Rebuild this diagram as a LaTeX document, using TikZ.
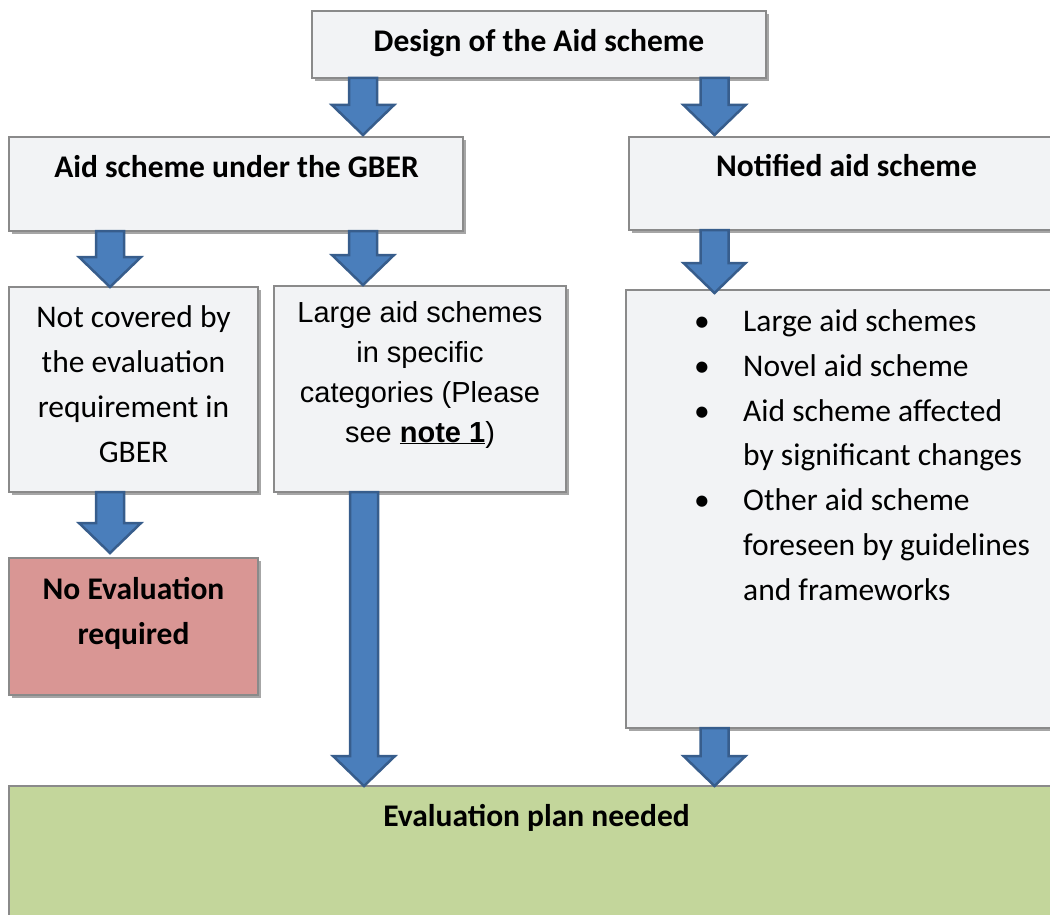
\documentclass[tikz,border=0pt]{standalone}
\usepackage{fontspec}
\setmainfont{Carlito}
\newfontfamily\arialfont{Liberation Sans}
\usetikzlibrary{calc,shadows}
\definecolor{boxfill}{HTML}{F2F3F5}
\definecolor{boxline}{HTML}{8A8A8A}
\definecolor{arrfill}{HTML}{4A7EBB}
\definecolor{arrline}{HTML}{375D8C}
\definecolor{pinkfill}{HTML}{D99694}
\definecolor{greenfill}{HTML}{C3D69B}
\tikzset{
  box/.style={draw=boxline, line width=1.8pt, fill=boxfill, anchor=north west,
    inner sep=0pt, outer sep=0pt,
    general shadow={fill=black!35, shadow xshift=3pt, shadow yshift=-3pt}},
  blockarrow/.style={draw=arrline, fill=arrfill, line width=2.5pt, line join=miter},
  lbl/.style={anchor=base, inner sep=0pt, font=\fontsize{31.5}{44.7}\selectfont},
  albl/.style={anchor=base, inner sep=0pt, align=center, font=\arialfont\fontsize{29}{39.7}\selectfont},
}
\newcommand\barrow[4]{%
  \draw[blockarrow] let \p1=(#2.south), \p2=(#3.north) in
    ({#1pt-14pt},\y1) -- ({#1pt+14pt},\y1) -- ({#1pt+14pt},{\y2+#4pt+30pt})
    -- ({#1pt+31pt},{\y2+#4pt+30pt}) -- ({#1pt},{\y2+#4pt})
    -- ({#1pt-31pt},{\y2+#4pt+30pt}) -- ({#1pt-14pt},{\y2+#4pt+30pt}) -- cycle;}
\newcommand\bitem{\makebox[49pt][l]{•}}
\begin{document}
\begin{tikzpicture}[x=1pt,y=-1pt]
\useasboundingbox (0,0) rectangle (1050,915);
\clip (0,0) rectangle (1050,915);
% boxes
\node[box, minimum width=454pt, minimum height=67pt] (design) at (312,11) {};
\node[box, minimum width=454pt, minimum height=94pt] (gber) at (9,137) {};
\node[box, minimum width=440pt, minimum height=93pt] (notified) at (629,137) {};
\node[box, minimum width=249pt, minimum height=205pt] (notcov) at (9,287) {};
\node[box, minimum width=292pt, minimum height=206pt] (large) at (274,286) {};
\node[box, fill=pinkfill, minimum width=249pt, minimum height=137pt] (noeval) at (9,558) {};
\node[box, minimum width=440pt, minimum height=438pt] (right) at (626,290) {};
\node[box, fill=greenfill, minimum width=1060pt, minimum height=150pt] (eval) at (9,786) {};
% texts (multi-line nodes: base anchor = last line's baseline)
\node[lbl] at (539,52) {\bfseries Design of the Aid scheme};
\node[lbl] at (236.5,178) {\bfseries Aid scheme under the GBER};
\node[lbl] at (846.5,177) {\bfseries Notified aid scheme};
\node[lbl, align=center] at (133.5,462) {Not covered by\\the evaluation\\requirement in\\GBER};
\node[albl] at (420,442) {Large aid schemes\\in specific\\categories (Please\\see \underline{\textbf{note 1}})};
\node[lbl, align=center] at (133.5,644) {\bfseries No Evaluation\\\bfseries required};
\node[lbl, anchor=base west, align=left] at (694,600) {\bitem Large aid schemes\\\bitem Novel aid scheme\\\bitem Aid scheme affected\\\hspace*{49pt}by significant changes\\\bitem Other aid scheme\\\hspace*{49pt}foreseen by guidelines\\\hspace*{49pt}and frameworks};
\node[lbl] at (536.5,826) {\bfseries Evaluation plan needed};
% arrows
\barrow{363}{design}{gber}{2}
\barrow{714.5}{design}{notified}{2}
\barrow{110}{gber}{notcov}{0}
\barrow{363}{gber}{large}{1}
\barrow{714.5}{notified}{right}{-3}
\barrow{110}{notcov}{noeval}{5}
\barrow{364}{large}{eval}{0}
\barrow{714.5}{right}{eval}{0}
\end{tikzpicture}
\end{document}
